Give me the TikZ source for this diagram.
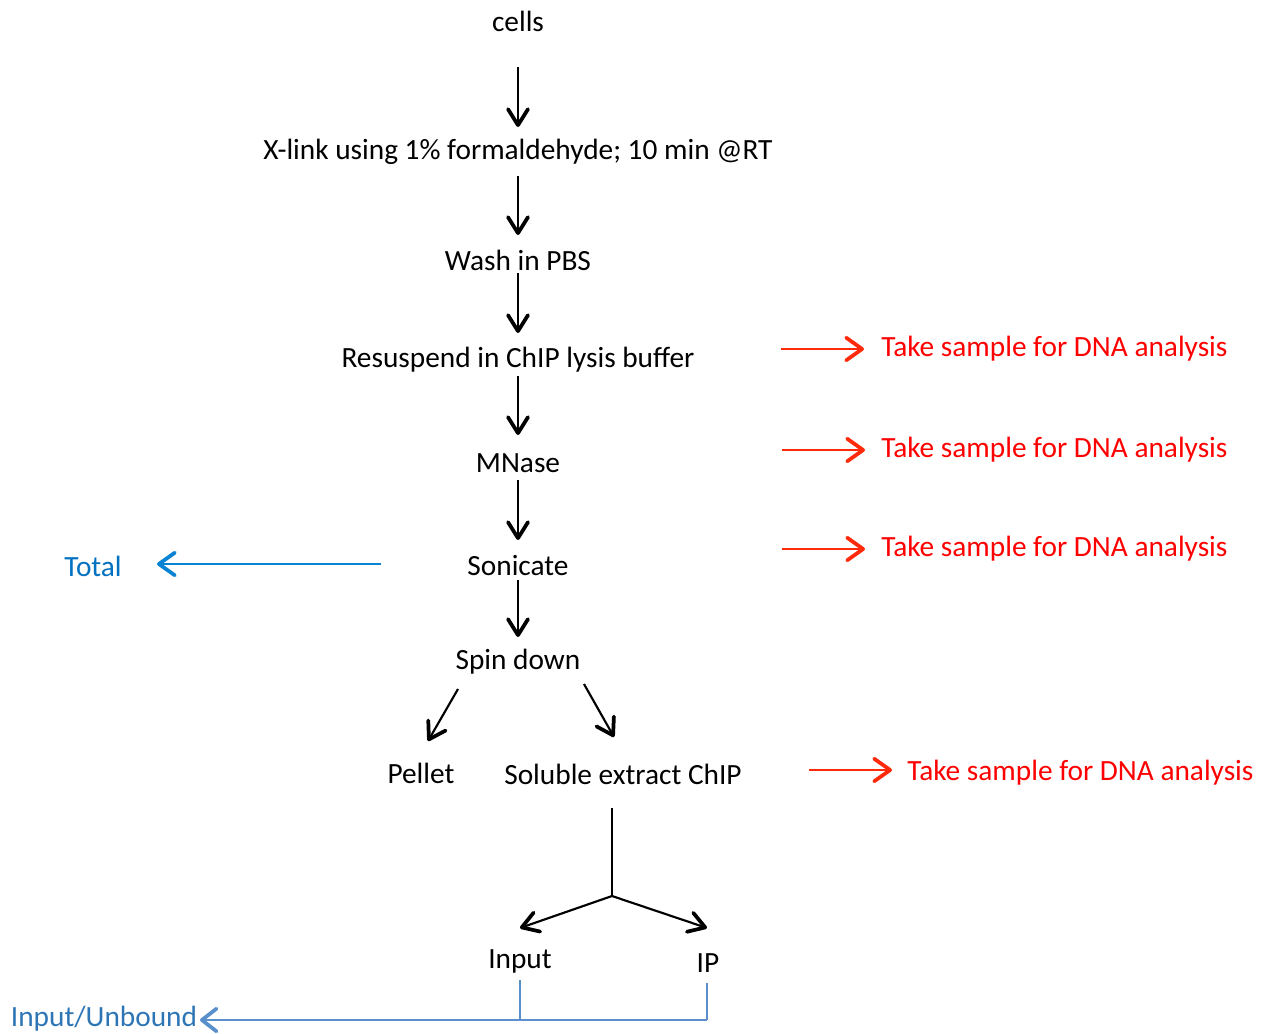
\documentclass[tikz,border=0pt]{standalone}
\usepackage{fontspec}
\setmainfont{Carlito}
\usetikzlibrary{arrows.meta}
\definecolor{txtred}{HTML}{FF0000}
\definecolor{arrred}{HTML}{FF2A0A}
\definecolor{totblue}{HTML}{0070C0}
\definecolor{totarr}{HTML}{0A84D2}
\definecolor{ubtxt}{HTML}{2E75B6}
\definecolor{ubline}{HTML}{5B8FCB}
\tikzset{
  lbl/.style={inner sep=0pt, yshift=-1.5pt, font=\fontsize{22}{26}\selectfont},
  redlbl/.style={lbl, text=txtred, anchor=west},
  blarr/.style={line width=1.6pt, -{Straight Barb[length=12pt,width=15pt,line width=2.8pt,round]}},
  rdarr/.style={arrred, line width=1.6pt, -{Straight Barb[length=12pt,width=17pt,line width=2.8pt,round]}},
  tarr/.style={totarr, line width=1.5pt, -{Straight Barb[length=12pt,width=17pt,line width=2.8pt,round]}},
  ubarr/.style={ubline, line width=1.8pt, -{Straight Barb[length=11pt,width=17pt,line width=2.8pt,round]}},
  thinblue/.style={ubline, line width=1.2pt},
}
\begin{document}
\begin{tikzpicture}[x=0.75pt,y=-0.75pt]
\useasboundingbox (0,0) rectangle (1272,1033);

\node[lbl] (cells) at (518,19) {cells};
\node[lbl] (xlink) at (518,150) {X-link using 1\% formaldehyde; 10 min @RT};
\node[lbl] (wash) at (518,258) {Wash in PBS};
\node[lbl] (resus) at (518,358) {Resuspend in ChIP lysis buffer};
\node[lbl] (mnase) at (518,461) {MNase};
\node[lbl] (soni) at (518,564) {Sonicate};
\node[lbl] (spin) at (518,660) {Spin down};
\node[lbl] (pellet) at (421,771) {Pellet};
\node[lbl] (sol) at (623,772) {Soluble extract ChIP};
\node[lbl] (input) at (520,959) {Input};
\node[lbl] (ip) at (708,961) {IP};
\node[lbl, text=totblue] (total) at (93,564) {Total};
\node[lbl, text=ubtxt] (unbound) at (104,1017) {Input/Unbound};

\node[redlbl] (t1) at (881,347) {Take sample for DNA analysis};
\node[redlbl] (t2) at (881,448) {Take sample for DNA analysis};
\node[redlbl] (t3) at (881,547) {Take sample for DNA analysis};
\node[redlbl] (t4) at (907,771) {Take sample for DNA analysis};

% main vertical chain
\draw[blarr, shorten <=34.5pt, shorten >=18.75pt] (cells.center) -- (xlink.center);
\draw[blarr, shorten <=18pt, shorten >=18.75pt] (xlink.center) -- (wash.center);
\draw[blarr, shorten <=9.75pt, shorten >=20.25pt] (wash.center) -- (resus.center);
\draw[blarr, shorten <=12pt, shorten >=21pt] (resus.center) -- (mnase.center);
\draw[blarr, shorten <=12.75pt, shorten >=19.5pt] (mnase.center) -- (soni.center);
\draw[blarr, shorten <=10.5pt, shorten >=18.75pt] (soni.center) -- (spin.center);

% spin down split
\coordinate (s1) at (458,689);
\coordinate (p1) at (428,741);
\coordinate (s2) at (584,684);
\coordinate (p2) at (614,737);
\draw[blarr] (s1) -- (p1);
\draw[blarr] (s2) -- (p2);

% soluble -> input / IP
\coordinate (solb) at (612,808);
\coordinate (junc) at (612,896);
\coordinate (inA) at (520,928);
\coordinate (ipA) at (707,928);
\draw[line width=1.2pt] (solb) -- (junc);
\draw[blarr] (junc) -- (inA);
\draw[blarr] (junc) -- (ipA);

% total
\draw[tarr, shorten <=102.75pt, shorten >=48pt] ([yshift=1.5pt]soni.center) -- ([yshift=1.5pt]total.center);

% input/unbound
\coordinate (inB) at (520,1020);
\coordinate (ipB) at (707,1020);
\draw[thinblue] (520,980) -- (inB);
\draw[thinblue] (707,983) -- (ipB);
\draw[ubarr] (ipB) -- ([xshift=2pt]unbound.east |- ipB);

% red arrows
\draw[rdarr] ([xshift=-75pt]t1.west |- 0,349) -- ([xshift=-12.75pt]t1.west |- 0,349);
\draw[rdarr] ([xshift=-74.25pt]t2.west |- 0,450) -- ([xshift=-12pt]t2.west |- 0,450);
\draw[rdarr] ([xshift=-74.25pt]t3.west |- 0,549) -- ([xshift=-12pt]t3.west |- 0,549);
\draw[rdarr] ([xshift=-73.5pt]t4.west |- 0,770) -- ([xshift=-11.25pt]t4.west |- 0,770);
\end{tikzpicture}
\end{document}
